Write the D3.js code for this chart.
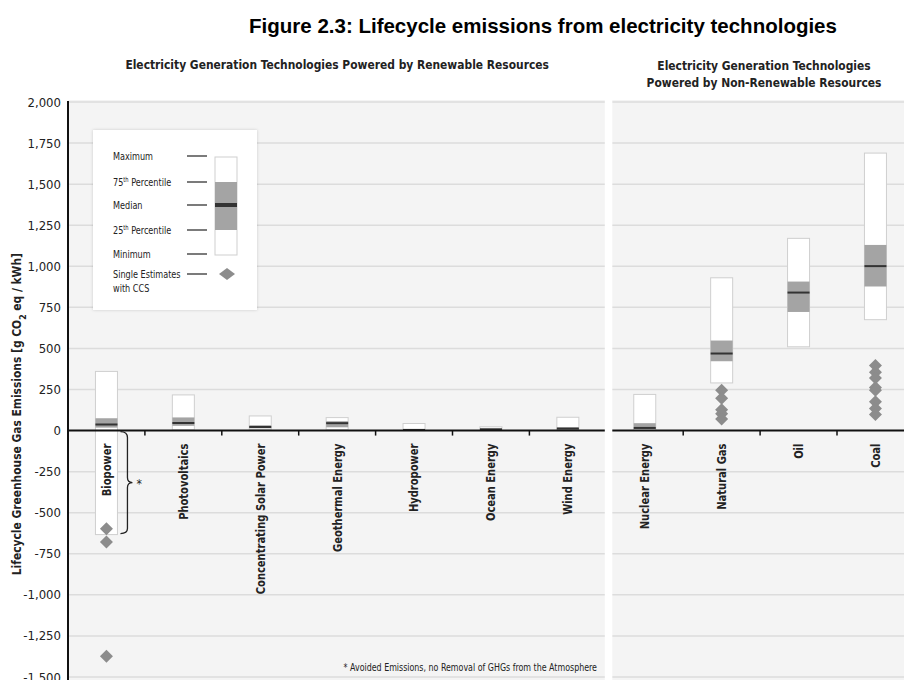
<!DOCTYPE html>
<html>
<head>
<meta charset="utf-8">
<script src="https://cdn.jsdelivr.net/npm/d3@7"></script>
<style>
  body { margin: 0; background: #fff; }
  svg { display: block; }
  .cond { font-family: "Liberation Sans Narrow", "Arial Narrow", "DejaVu Sans Condensed", sans-serif; }
</style>
</head>
<body>
<svg id="chart" width="904" height="680"></svg>
<script>
// Lifecycle GHG emissions by generation technology (g CO2 eq / kWh)
const categories = [
  "Biopower", "Photovoltaics", "Concentrating Solar Power", "Geothermal Energy",
  "Hydropower", "Ocean Energy", "Wind Energy",
  "Nuclear Energy", "Natural Gas", "Oil", "Coal"
];
const minimum = [-633, 5, 7, 6, 0, 2, 2, 1, 290, 510, 675];
const pct25   = [18, 29, 14, 20, 3, 6, 8, 8, 422, 722, 877];
const median  = [37, 46, 22, 45, 4, 8, 12, 16, 469, 840, 1001];
const pct75   = [75, 80, 32, 57, 7, 9, 20, 45, 548, 907, 1130];
const maximum = [360, 217, 89, 79, 43, 23, 81, 220, 930, 1170, 1689];

// Single estimates with carbon capture and storage
const ccsBiopower   = [-598, -678, -1374];
const ccsNaturalGas = [245, 196, 127, 103, 70];
const ccsCoal       = [396, 355, 320, 262, 245, 175, 135, 98];

const yTicks = [2000, 1750, 1500, 1250, 1000, 750, 500, 250, 0, -250, -500, -750, -1000, -1250, -1500];

const W = 904, H = 680;
const left = 68, step = 76.9;
const svg = d3.select("#chart");

const x = d3.scaleBand().domain(categories).range([left, left + step * categories.length]);
const y = d3.scaleLinear().domain([-1500, 2000]).range([677, 102]);
const fmt = d3.formatLocale({ decimal: ".", thousands: ",", grouping: [3], currency: ["", ""], minus: "-" }).format(",");

// Squeeze text horizontally to a narrower set width
function condense(sel, factor) {
  sel.each(function () {
    const len = this.getComputedTextLength();
    d3.select(this).attr("textLength", (len * factor).toFixed(1)).attr("lengthAdjust", "spacingAndGlyphs");
  });
  return sel;
}

const renewableCount = 7;
const sepX = x(categories[renewableCount]);

const defs = svg.append("defs");
const shadow = defs.append("filter").attr("id", "shadow").attr("x", "-10%").attr("y", "-10%").attr("width", "120%").attr("height", "120%");
shadow.append("feDropShadow").attr("dx", 0).attr("dy", 0).attr("stdDeviation", 1.6).attr("flood-color", "#000").attr("flood-opacity", 0.18);
const clip = defs.append("clipPath").attr("id", "plotclip");
clip.append("rect").attr("x", left).attr("y", 0).attr("width", W - left).attr("height", H);

// Title
svg.append("text")
  .attr("x", 543).attr("y", 33)
  .attr("text-anchor", "middle")
  .style("font-family", "'Liberation Sans', Arial, sans-serif")
  .style("font-weight", "bold").style("font-size", "20.5px").attr("fill", "#000")
  .text("Figure 2.3: Lifecycle emissions from electricity technologies");

// Panel headers
condense(svg.append("text").attr("class", "cond")
  .attr("x", (left + sepX) / 2).attr("y", 69)
  .attr("text-anchor", "middle").style("font-weight", "bold").style("font-size", "13px").attr("fill", "#222")
  .text("Electricity Generation Technologies Powered by Renewable Resources"), 0.915);
[["Electricity Generation Technologies", 70], ["Powered by Non-Renewable Resources", 87]].forEach(([t, ty]) => {
  condense(svg.append("text").attr("class", "cond")
    .attr("x", 764).attr("y", ty)
    .attr("text-anchor", "middle").style("font-weight", "bold").style("font-size", "13px").attr("fill", "#222")
    .text(t), 0.915);
});

// Plot background
const plot = svg.append("g").attr("clip-path", "url(#plotclip)");
plot.append("rect").attr("x", left).attr("y", 100).attr("width", W - left).attr("height", H - 100).attr("fill", "#f4f4f4");

// Gridlines
plot.selectAll("line.grid").data(yTicks.filter(d => d !== 0)).join("line")
  .attr("class", "grid")
  .attr("x1", left).attr("x2", W)
  .attr("y1", d => y(d)).attr("y2", d => y(d))
  .attr("stroke", "#dcdcdc").attr("stroke-width", 1.5);

// White divider between the two groups of technologies
plot.append("rect").attr("x", sepX - 1.5).attr("y", 95).attr("width", 7.5).attr("height", H).attr("fill", "#fff");

// Boxes
const rows = categories.map((c, i) => ({ c, min: minimum[i], q1: pct25[i], med: median[i], q3: pct75[i], max: maximum[i] }));
const bw = 22;
const boxes = plot.selectAll("g.box").data(rows).join("g").attr("class", "box")
  .attr("transform", d => `translate(${x(d.c) + x.bandwidth() / 2},0)`);
boxes.append("rect")
  .attr("x", -bw / 2).attr("width", bw)
  .attr("y", d => y(d.max)).attr("height", d => y(d.min) - y(d.max))
  .attr("fill", "#fff").attr("stroke", "#cfcfcf").attr("stroke-width", 1);
boxes.append("rect")
  .attr("x", -bw / 2).attr("width", bw)
  .attr("y", d => y(d.q3)).attr("height", d => y(d.q1) - y(d.q3))
  .attr("fill", "#a4a4a4");
boxes.append("line")
  .attr("x1", -bw / 2).attr("x2", bw / 2)
  .attr("y1", d => y(d.med)).attr("y2", d => y(d.med))
  .attr("stroke", "#333").attr("stroke-width", 2);

// CCS diamonds
const diamond = "M0,-6.5L6.5,0L0,6.5L-6.5,0Z";
const ccs = [
  ...ccsBiopower.map(v => ({ c: "Biopower", v })),
  ...ccsNaturalGas.map(v => ({ c: "Natural Gas", v })),
  ...ccsCoal.map(v => ({ c: "Coal", v }))
];
plot.selectAll("path.ccs").data(ccs).join("path").attr("class", "ccs")
  .attr("d", diamond)
  .attr("transform", d => `translate(${x(d.c) + x.bandwidth() / 2},${y(d.v)})`)
  .attr("fill", "#8c8c8c");

// Zero line with band ticks
const y0 = y(0);
plot.append("line").attr("x1", left).attr("x2", sepX - 1.5).attr("y1", y0).attr("y2", y0).attr("stroke", "#111").attr("stroke-width", 2);
plot.append("line").attr("x1", sepX + 6).attr("x2", W).attr("y1", y0).attr("y2", y0).attr("stroke", "#111").attr("stroke-width", 2);
plot.selectAll("line.btick").data(categories.slice(1).filter((c, i) => i + 1 !== renewableCount)).join("line")
  .attr("class", "btick")
  .attr("x1", d => x(d)).attr("x2", d => x(d))
  .attr("y1", y0).attr("y2", y0 + 5)
  .attr("stroke", "#111").attr("stroke-width", 1.5);

// Category labels
condense(plot.selectAll("text.cat").data(categories).join("text")
  .attr("class", "cat cond")
  .attr("transform", d => `translate(${x(d) + x.bandwidth() / 2},${y0 + 13}) rotate(-90)`)
  .attr("dy", "0.35em").attr("text-anchor", "end")
  .style("font-weight", "bold").style("font-size", "12.5px").attr("fill", "#222")
  .text(d => d), 0.885);

// Brace for avoided emissions of biopower
const bx = x("Biopower") + x.bandwidth() / 2 + 14;
const yb = y(minimum[0]);
const ym = (y0 + yb) / 2;
plot.append("path")
  .attr("d", `M${bx},${y0 + 1} Q${bx + 7},${y0 + 1} ${bx + 7},${y0 + 7} L${bx + 7},${ym - 5} Q${bx + 7},${ym} ${bx + 12},${ym} Q${bx + 7},${ym} ${bx + 7},${ym + 5} L${bx + 7},${yb - 6} Q${bx + 7},${yb - 1} ${bx},${yb - 1}`)
  .attr("fill", "none").attr("stroke", "#222").attr("stroke-width", 1.3);
plot.append("text").attr("class", "cond").attr("x", bx + 16).attr("y", ym + 5)
  .style("font-size", "12px").attr("fill", "#222").text("*");

// Footnote
condense(plot.append("text").attr("class", "cond").attr("x", 597).attr("y", 671)
  .attr("text-anchor", "end").style("font-size", "11px").attr("fill", "#222")
  .text("* Avoided Emissions, no Removal of GHGs from the Atmosphere"), 0.8);

// Y axis
svg.append("line").attr("x1", left).attr("x2", left).attr("y1", y(2000) - 1).attr("y2", H)
  .attr("stroke", "#111").attr("stroke-width", 2);
svg.selectAll("text.ytick").data(yTicks).join("text")
  .attr("class", "ytick cond")
  .attr("x", 61).attr("y", d => y(d)).attr("dy", "0.35em")
  .attr("text-anchor", "end").style("font-size", "13px").attr("fill", "#222")
  .text(d => fmt(d));
const yt = svg.append("text").attr("class", "cond")
  .attr("transform", `translate(17,${(y(1100) + y(-900)) / 2}) rotate(-90)`)
  .attr("dy", "0.35em").attr("text-anchor", "middle")
  .style("font-weight", "bold").style("font-size", "12.5px").attr("fill", "#222");
yt.append("tspan").text("Lifecycle Greenhouse Gas Emissions [g CO");
yt.append("tspan").attr("baseline-shift", "sub").style("font-size", "9px").text("2");
yt.append("tspan").text(" eq / kWh]");
condense(yt, 0.95);

// Legend
const lg = svg.append("g").attr("class", "legend");
lg.append("rect").attr("x", 93).attr("y", 130).attr("width", 164).attr("height", 180)
  .attr("fill", "#fff").attr("filter", "url(#shadow)");
const legendRows = [
  { label: "Maximum", y: 156 },
  { label: "75", sup: "th", rest: " Percentile", y: 182 },
  { label: "Median", y: 205 },
  { label: "25", sup: "th", rest: " Percentile", y: 230 },
  { label: "Minimum", y: 254 },
  { label: "Single Estimates", y: 274, line2: "with CCS" }
];
legendRows.forEach(r => {
  const t = lg.append("text").attr("class", "cond").attr("x", 113).attr("y", r.y).attr("dy", "0.35em")
    .style("font-size", "11px").attr("fill", "#222");
  t.append("tspan").text(r.label);
  if (r.sup) {
    t.append("tspan").attr("baseline-shift", "super").style("font-size", "7px").text(r.sup);
    t.append("tspan").text(r.rest);
  }
  condense(t, 0.82);
  if (r.line2) condense(lg.append("text").attr("class", "cond").attr("x", 113).attr("y", r.y + 14).attr("dy", "0.35em")
    .style("font-size", "11px").attr("fill", "#222").text(r.line2), 0.82);
  lg.append("line").attr("x1", 187).attr("x2", 207).attr("y1", r.y).attr("y2", r.y)
    .attr("stroke", "#333").attr("stroke-width", 1.3);
});
lg.append("rect").attr("x", 215).attr("y", 157).attr("width", 22).attr("height", 98)
  .attr("fill", "#fff").attr("stroke", "#cfcfcf");
lg.append("rect").attr("x", 215).attr("y", 182).attr("width", 22).attr("height", 48).attr("fill", "#a4a4a4");
lg.append("rect").attr("x", 215).attr("y", 203).attr("width", 22).attr("height", 4).attr("fill", "#333");
lg.append("path").attr("d", "M0,-6L8,0L0,6L-8,0Z").attr("transform", "translate(227,274)").attr("fill", "#8c8c8c");
</script>
</body>
</html>
